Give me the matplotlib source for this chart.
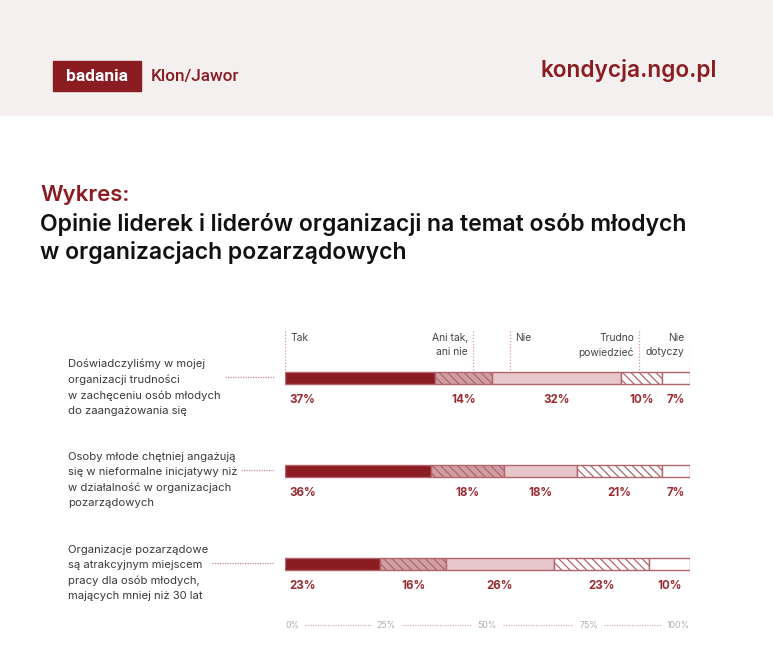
import matplotlib
matplotlib.use('Agg')
import matplotlib.pyplot as plt
from matplotlib.patches import Rectangle

plt.rcParams['font.family'] = ['Inter', 'DejaVu Sans']
plt.rcParams['hatch.linewidth'] = 0.9

# data
statements = [
    "Doświadczyliśmy w mojej\norganizacji trudności\nw zachęceniu osób młodych\ndo zaangażowania się",
    "Osoby młode chętniej angażują\nsię w nieformalne inicjatywy niż\nw działalność w organizacjach\npozarządowych",
    "Organizacje pozarządowe\nsą atrakcyjnym miejscem\npracy dla osób młodych,\nmających mniej niż 30 lat",
]
answers = ["Tak", "Ani tak,\nani nie", "Nie", "Trudno\npowiedzieć", "Nie\ndotyczy"]
values = [
    [37, 14, 32, 10, 7],
    [36, 18, 18, 21, 7],
    [23, 16, 26, 23, 10],
]
ticks = [0, 25, 50, 75, 100]
tick_labels = ["0%", "25%", "50%", "75%", "100%"]

# styles
RED = '#8a1c22'
LBL = '#9a2b31'
EDGE = '#b2666c'
fills = [RED, '#cf9fa3', '#e7c7c9', 'white', 'white']
hatches = [None, '\\\\\\\\', None, '\\\\\\\\', None]
head_pos = [0, 46.5, 55.5, 87.5, 100]
head_ha = ['left', 'right', 'left', 'right', 'right']

W, H = 773, 652
fig = plt.figure(figsize=(W / 100, H / 100), dpi=100)
ax0 = fig.add_axes([0, 0, 1, 1])
ax0.set_xlim(0, W)
ax0.set_ylim(H, 0)
ax0.axis('off')

# header band
ax0.add_patch(Rectangle((0, 0), W, 115, color='#f4f0ef', zorder=0))
ax0.add_patch(Rectangle((53, 61), 88, 30, color=RED, zorder=1))
ax0.text(97, 76.5, "badania", color='white', fontsize=12.5, fontweight='bold',
         ha='center', va='center', family=['Roboto', 'DejaVu Sans'])
ax0.text(151, 76.5, "Klon/Jawor", color=RED, fontsize=12.3, fontweight='medium',
         ha='left', va='center', family=['Roboto', 'DejaVu Sans'])
ax0.text(717, 71, "kondycja.ngo.pl", color=RED, fontsize=16.3, fontweight='semibold',
         ha='right', va='center')

# title
ax0.text(40, 195, "Wykres:", color=RED, fontsize=16, fontweight='semibold',
         ha='left', va='center')
ax0.text(40, 225, "Opinie liderek i liderów organizacji na temat osób młodych",
         color='#111111', fontsize=16.6, fontweight='semibold', ha='left', va='center')
ax0.text(40, 253, "w organizacjach pozarządowych",
         color='#111111', fontsize=16.6, fontweight='semibold', ha='left', va='center')

# bars axes: x in percent, y in pixels
axb = fig.add_axes([285 / W, 0, 405 / W, 1])
axb.set_xlim(0, 100)
axb.set_ylim(H, 0)
axb.axis('off')

row_y0 = 378
row_step = 93
bar_h = 12.5

cat_texts = []
for i, (stmt, vals) in enumerate(zip(statements, values)):
    yc = row_y0 + i * row_step
    total = sum(vals)
    left = 0
    for j, v in enumerate(vals):
        w = v * 100 / total
        axb.barh(yc, w, left=left, height=bar_h, color=fills[j], edgecolor=EDGE,
                 linewidth=1, hatch=hatches[j], zorder=2)
        if j == 0:
            axb.text(left + 1.2, yc + 22, f"{v}%", color=LBL, fontsize=8.3,
                     fontweight='bold', ha='left', va='center')
        else:
            axb.text(left + w / 2, yc + 22, f"{v}%", color=LBL, fontsize=8.3,
                     fontweight='bold', ha='center', va='center')
        left += w
    t = ax0.text(68, yc + 9, stmt, color='#3a3a3a', fontsize=8.1, ha='left',
                 va='center', linespacing=1.62)
    cat_texts.append((t, yc))

# answer headers with dotted guides
for name, p, ha in zip(answers, head_pos, head_ha):
    off = 1.3 if ha == 'left' else -1.3
    axb.text(p + off, 333, name, color='#444444', fontsize=7.4, ha=ha, va='top',
             linespacing=1.55)
    axb.plot([p, p], [331, row_y0 - bar_h / 2], color='#d29aa0', lw=0.9,
             ls=(0, (1, 1.5)), zorder=1)

# x-axis scale
tick_objs = []
for tv, tl in zip(ticks, tick_labels):
    ha = 'left' if tv == 0 else ('right' if tv == 100 else 'center')
    tick_objs.append(axb.text(tv, 625, tl, color='#b0b0b0', fontsize=6.3, ha=ha,
                              va='center'))

fig.canvas.draw()
r = fig.canvas.get_renderer()
inv0 = ax0.transData.inverted()
invb = axb.transData.inverted()

# leaders from statements to bars
for t, yc in cat_texts:
    bb = t.get_window_extent(r)
    x_right = inv0.transform((bb.x1, bb.y0))[0]
    ax0.plot([x_right + 4, 274], [yc - 1.5, yc - 1.5], color='#c9868c', lw=0.9,
             ls=(0, (1, 1)))

# dotted lines between scale labels
for a, b in zip(tick_objs[:-1], tick_objs[1:]):
    xa = invb.transform((a.get_window_extent(r).x1, 0))[0]
    xb = invb.transform((b.get_window_extent(r).x0, 0))[0]
    axb.plot([xa + 1.5, xb - 1.5], [625, 625], color='#d9aeb2', lw=0.9,
             ls=(0, (1, 1)))

fig.savefig('out.png', dpi=100)
